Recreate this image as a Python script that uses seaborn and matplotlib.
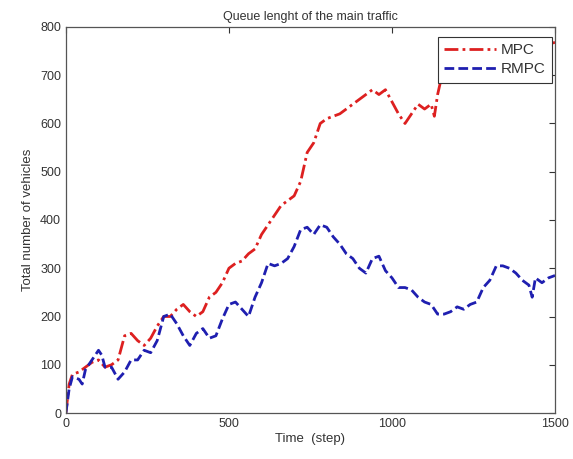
import matplotlib
matplotlib.use("Agg")
import matplotlib.pyplot as plt
import seaborn as sns
import pandas as pd

mpc_steps = [0, 10, 20, 40, 60, 80, 100, 120, 140, 160, 180, 200, 220, 240, 260, 280,
             300, 320, 340, 360, 380, 400, 420, 440, 460, 480, 500, 520, 540, 560, 580,
             600, 620, 640, 660, 680, 700, 720, 740, 760, 780, 800, 820, 840, 860, 880,
             900, 920, 940, 960, 980, 1000, 1020, 1040, 1060, 1080, 1100, 1120, 1130,
             1140, 1160, 1170, 1200, 1250, 1300, 1350, 1400, 1450, 1500]
mpc_values = [0, 60, 80, 85, 95, 105, 110, 95, 100, 110, 160, 165, 150, 140, 155, 180,
              200, 200, 215, 225, 210, 200, 210, 240, 250, 270, 300, 310, 315, 330, 340,
              370, 390, 410, 430, 440, 450, 480, 540, 560, 600, 610, 615, 620, 630, 640,
              650, 660, 670, 660, 670, 645, 620, 600, 620, 640, 630, 640, 615,
              660, 720, 745, 755, 760, 750, 758, 752, 760, 768]

rmpc_steps = [0, 10, 20, 40, 50, 60, 80, 100, 110, 120, 140, 160, 180, 200, 220, 240,
              260, 280, 300, 320, 340, 360, 380, 400, 420, 440, 460, 480, 500, 520, 540,
              560, 580, 600, 620, 640, 660, 680, 700, 720, 740, 760, 780, 800, 820, 840,
              860, 880, 900, 920, 940, 960, 980, 1000, 1020, 1040, 1060, 1080, 1100, 1120,
              1140, 1160, 1180, 1200, 1220, 1240, 1260, 1280, 1300, 1320, 1340, 1360, 1380,
              1400, 1420, 1430, 1440, 1460, 1480, 1500]
rmpc_values = [0, 50, 75, 70, 60, 90, 110, 130, 120, 95, 95, 70, 85, 110, 110, 130,
               125, 150, 200, 205, 185, 160, 140, 165, 175, 155, 160, 195, 225, 230, 215,
               200, 240, 270, 310, 305, 310, 320, 345, 380, 385, 370, 390, 385, 365, 350,
               330, 320, 300, 290, 320, 325, 295, 280, 260, 260, 255, 240, 230, 225,
               205, 205, 210, 220, 215, 225, 230, 260, 275, 305, 305, 300, 290,
               275, 265, 240, 280, 270, 280, 285]

series_names = ["MPC", "RMPC"]
x_ticks = [0, 500, 1000, 1500]
y_ticks = [0, 100, 200, 300, 400, 500, 600, 700, 800]

df = pd.concat([
    pd.DataFrame({"step": mpc_steps, "value": mpc_values, "series": series_names[0]}),
    pd.DataFrame({"step": rmpc_steps, "value": rmpc_values, "series": series_names[1]}),
])

sns.set_style("white")
plt.rcParams["font.family"] = ["Liberation Sans", "DejaVu Sans"]

fig = plt.figure(figsize=(5.73, 4.59), dpi=100)
ax = fig.add_axes([0.115, 0.1002, 0.8536, 0.8410])

sns.lineplot(data=df, x="step", y="value", hue="series", style="series",
             palette={"MPC": "#dd2020", "RMPC": "#1f1fb0"},
             dashes={"MPC": (5, 1.5, 1, 1.5), "RMPC": (3.5, 1.5)},
             linewidth=2, ax=ax, sort=False, estimator=None)

ax.set_xlim(0, 1500)
ax.set_ylim(0, 800)
ax.set_xticks(x_ticks)
ax.set_yticks(y_ticks)
ax.tick_params(direction="in", length=4, top=True, right=True, labelsize=9,
               colors="#333333", width=0.8)
for s in ax.spines.values():
    s.set_color("#555555")
    s.set_linewidth(0.9)
ax.set_xlabel("Time  (step)", fontsize=9.5, color="#333333", labelpad=2)
ax.set_ylabel("Total number of vehicles", fontsize=9.5, color="#333333", labelpad=4)
ax.set_title("Queue lenght of the main traffic", fontsize=9, color="#333333", pad=5)

leg = ax.legend(loc="upper right", bbox_to_anchor=(0.994, 0.974), fontsize=11,
                frameon=True, fancybox=False, framealpha=1, edgecolor="#333333",
                handlelength=3.4, borderaxespad=0.0, labelspacing=0.35,
                handletextpad=0.35, borderpad=0.4)
leg.get_frame().set_linewidth(0.8)
for t in leg.get_texts():
    t.set_color("#333333")

fig.savefig("out.png", dpi=100)
